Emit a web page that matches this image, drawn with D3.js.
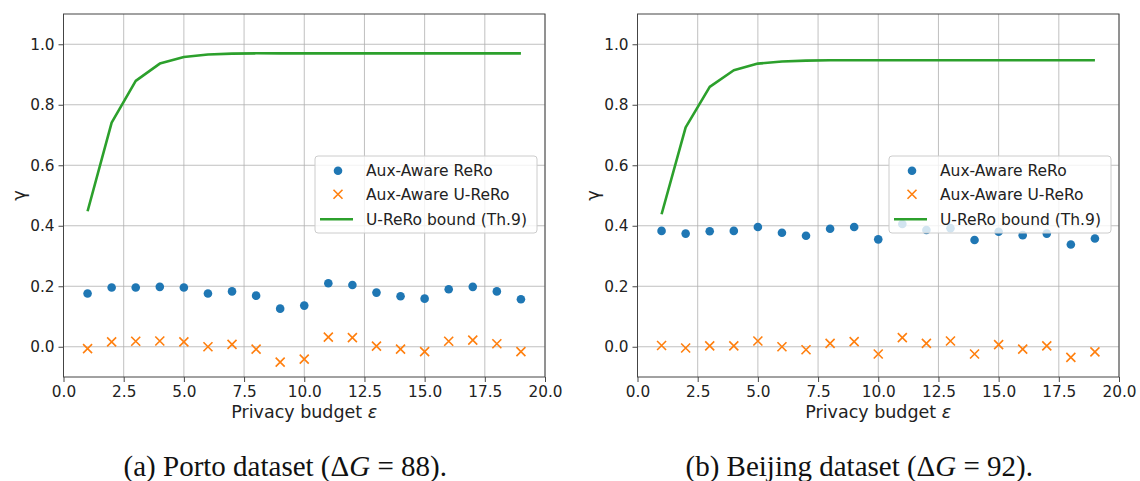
<!DOCTYPE html>
<html>
<head>
<meta charset="utf-8">
<script src="https://cdn.jsdelivr.net/npm/d3@7"></script>
<style>
  html, body { margin: 0; padding: 0; background: #fff; }
  svg { display: block; }
</style>
</head>
<body>
<svg id="chart" width="1140" height="481"></svg>
<script>
// Privacy budget values shared by both panels
const epsilons = [1, 2, 3, 4, 5, 6, 7, 8, 9, 10, 11, 12, 13, 14, 15, 16, 17, 18, 19];

// Porto dataset
const portoReRo = [0.176, 0.196, 0.196, 0.198, 0.196, 0.176, 0.183, 0.169, 0.126, 0.136,
                   0.210, 0.204, 0.179, 0.167, 0.159, 0.190, 0.198, 0.183, 0.157];
const portoUReRo = [-0.006, 0.016, 0.018, 0.019, 0.016, 0.000, 0.008, -0.008, -0.051, -0.041,
                    0.032, 0.030, 0.002, -0.008, -0.016, 0.018, 0.022, 0.010, -0.016];
const portoBound = [0.448, 0.741, 0.879, 0.936, 0.958, 0.966, 0.969, 0.970, 0.970, 0.970,
                    0.970, 0.970, 0.970, 0.970, 0.970, 0.970, 0.970, 0.970, 0.970];

// Beijing dataset
const beijingReRo = [0.383, 0.374, 0.382, 0.383, 0.396, 0.377, 0.367, 0.390, 0.396, 0.355,
                     0.406, 0.386, 0.392, 0.353, 0.380, 0.369, 0.374, 0.338, 0.358];
const beijingUReRo = [0.004, -0.004, 0.003, 0.003, 0.019, 0.000, -0.010, 0.011, 0.017, -0.024,
                      0.030, 0.011, 0.019, -0.024, 0.007, -0.008, 0.003, -0.035, -0.017];
const beijingBound = [0.438, 0.725, 0.859, 0.914, 0.936, 0.943, 0.946, 0.947, 0.947, 0.947,
                      0.947, 0.947, 0.947, 0.947, 0.947, 0.947, 0.947, 0.947, 0.947];

// Axis ticks and labels
const xTicks = [0, 2.5, 5, 7.5, 10, 12.5, 15, 17.5, 20];
const yTicks = [0.0, 0.2, 0.4, 0.6, 0.8, 1.0];
const xDomain = [0, 20];
const yDomain = [-0.1, 1.1];
const seriesNames = ["Aux-Aware ReRo", "Aux-Aware U-ReRo", "U-ReRo bound (Th.9)"];
const xLabel = "Privacy budget ";
const xLabelSymbol = "ε";
const yLabel = "γ";
// caption pieces: [prefix, italic symbol, suffix]
const captions = [
  ["(a) Porto dataset (Δ", "G", " = 88)."],
  ["(b) Beijing dataset (Δ", "G", " = 92)."]
];

const panels = [
  { left: 63.5, reRo: portoReRo, uReRo: portoUReRo, bound: portoBound, caption: captions[0] },
  { left: 637.5, reRo: beijingReRo, uReRo: beijingUReRo, bound: beijingBound, caption: captions[1] }
];

const colors = { blue: "#1f77b4", orange: "#ff7f0e", green: "#2ca02c", grid: "#b0b0b0" };
const plotW = 481.5, plotTop = 14, plotH = 363;
const font = "'DejaVu Sans', sans-serif";

const svg = d3.select("#chart");

panels.forEach(p => {
  const x = d3.scaleLinear().domain(xDomain).range([p.left, p.left + plotW]);
  const y = d3.scaleLinear().domain(yDomain).range([plotTop + plotH, plotTop]);
  const g = svg.append("g");

  // grid lines
  g.append("g").selectAll("line").data(xTicks).join("line")
    .attr("x1", d => x(d)).attr("x2", d => x(d))
    .attr("y1", plotTop).attr("y2", plotTop + plotH)
    .attr("stroke", colors.grid).attr("stroke-width", 0.8);
  g.append("g").selectAll("line").data(yTicks).join("line")
    .attr("x1", p.left).attr("x2", p.left + plotW)
    .attr("y1", d => y(d)).attr("y2", d => y(d))
    .attr("stroke", colors.grid).attr("stroke-width", 0.8);

  // axes
  const xAxis = d3.axisBottom(x).tickValues(xTicks).tickFormat(d3.format(".1f"))
    .tickSize(5).tickPadding(4);
  const yAxis = d3.axisLeft(y).tickValues(yTicks).tickFormat(d3.format(".1f"))
    .tickSize(5).tickPadding(4);
  const gx = g.append("g").attr("transform", `translate(0,${plotTop + plotH})`).call(xAxis);
  const gy = g.append("g").attr("transform", `translate(${p.left},0)`).call(yAxis);
  [gx, gy].forEach(a => {
    a.select(".domain").remove();
    a.selectAll(".tick line").attr("stroke", "#333").attr("stroke-width", 0.9);
    a.selectAll(".tick text").attr("fill", "#222").style("font-family", font).style("font-size", "15.3px");
  });

  // frame
  g.append("rect").attr("x", p.left).attr("y", plotTop).attr("width", plotW).attr("height", plotH)
    .attr("fill", "none").attr("stroke", "#444").attr("stroke-width", 1);

  // axis titles
  const xt = g.append("text").attr("x", p.left + plotW / 2).attr("y", 418)
    .attr("text-anchor", "middle").attr("fill", "#222")
    .style("font-family", font).style("font-size", "17.5px");
  xt.append("tspan").text(xLabel);
  xt.append("tspan").style("font-style", "italic").text(xLabelSymbol);
  g.append("text").attr("transform", `translate(${p.left - 39},${y(0.5)}) rotate(-90)`)
    .attr("text-anchor", "middle").attr("fill", "#222")
    .style("font-family", font).style("font-size", "18px").text(yLabel);

  // bound line
  const line = d3.line().x((d, i) => x(epsilons[i])).y(d => y(d));
  g.append("path").datum(p.bound).attr("d", line)
    .attr("fill", "none").attr("stroke", colors.green).attr("stroke-width", 2.6)
    .attr("stroke-linejoin", "round");

  // ReRo dots
  g.append("g").selectAll("circle").data(p.reRo).join("circle")
    .attr("cx", (d, i) => x(epsilons[i])).attr("cy", d => y(d)).attr("r", 4.3)
    .attr("fill", colors.blue);

  // U-ReRo crosses
  const s = 4.5;
  g.append("g").selectAll("path").data(p.uReRo).join("path")
    .attr("transform", (d, i) => `translate(${x(epsilons[i])},${y(d)})`)
    .attr("d", `M${-s},${-s}L${s},${s}M${-s},${s}L${s},${-s}`)
    .attr("stroke", colors.orange).attr("stroke-width", 1.6).attr("fill", "none");

  // legend
  const lx = p.left + plotW - 8 - 222, ly = 156;
  const lg = g.append("g").attr("transform", `translate(${lx},${ly})`);
  lg.append("rect").attr("width", 222).attr("height", 77).attr("rx", 3)
    .attr("fill", "#fff").attr("fill-opacity", 0.8)
    .attr("stroke", "#ccc").attr("stroke-width", 1);
  const rows = [14.7, 38.3, 63.3];
  lg.append("circle").attr("cx", 23).attr("cy", rows[0]).attr("r", 4.3).attr("fill", colors.blue);
  lg.append("path").attr("transform", `translate(23,${rows[1]})`)
    .attr("d", `M${-s},${-s}L${s},${s}M${-s},${s}L${s},${-s}`)
    .attr("stroke", colors.orange).attr("stroke-width", 1.6);
  lg.append("line").attr("x1", 5).attr("x2", 38).attr("y1", rows[2]).attr("y2", rows[2])
    .attr("stroke", colors.green).attr("stroke-width", 2.6);
  lg.selectAll("text").data(seriesNames).join("text")
    .attr("x", 51).attr("y", (d, i) => rows[i]).attr("dy", "0.35em")
    .attr("fill", "#222").style("font-family", font).style("font-size", "15.5px")
    .text(d => d);

  // caption
  const cap = svg.append("text").attr("x", p.left + plotW / 2 - 19).attr("y", 476)
    .attr("text-anchor", "middle").attr("fill", "#111")
    .style("font-family", "'Liberation Serif', serif").style("font-size", "29px");
  cap.append("tspan").text(p.caption[0]);
  cap.append("tspan").style("font-style", "italic").text(p.caption[1]);
  cap.append("tspan").text(p.caption[2]);
});
</script>
</body>
</html>
